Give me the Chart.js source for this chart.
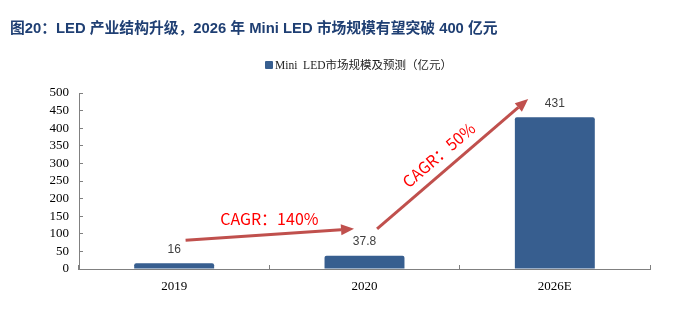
<!DOCTYPE html>
<html>
<head>
<meta charset="utf-8">
<script src="https://cdn.jsdelivr.net/npm/chart.js@4.4.1/dist/chart.umd.min.js"></script>
<style>
  html, body { margin: 0; padding: 0; background: #ffffff; }
  #wrap { position: relative; width: 677px; height: 325px; overflow: hidden; }
  #chart { position: absolute; left: 0; top: 0; }
  #title { position: absolute; left: 10px; top: 18px; font: bold 14.8px "Liberation Sans", "Noto Sans CJK SC", sans-serif; color: #1F3F73; white-space: nowrap; line-height: 20px; }
  #legend { position: absolute; left: 265px; top: 57px; font: 11.5px "Liberation Serif", "Noto Sans CJK SC", serif; color: #222; white-space: nowrap; line-height: 16px; }
  #legend .box { display: inline-block; width: 8px; height: 8px; background: #375E8F; margin-right: 2px; vertical-align: 0px; border-radius: 1px; }
</style>
</head>
<body>
<div id="wrap">
  <canvas id="chart" width="677" height="325"></canvas>
  <div id="title">图20：LED 产业结构升级，2026 年 Mini LED 市场规模有望突破 400 亿元</div>
  <div id="legend"><span class="box"></span>Mini&nbsp; LED市场规模及预测（亿元）</div>
</div>
<script>
const categories = ['2019', '2020', '2026E'];
const marketSize = [16, 37.8, 431];
const valueLabels = ['16', '37.8', '431'];
const yTicks = [0, 50, 100, 150, 200, 250, 300, 350, 400, 450, 500];
const seriesName = 'Mini  LED市场规模及预测（亿元）';
// annotation arrows in data space: [categoryIndex, value]
const arrow1 = [[0.06, 82], [0.945, 114]];
const arrow2 = [[1.066, 114], [1.86, 483]];
const cagrLabels = ['CAGR：140%', 'CAGR：50%'];
const cagrAnchors = [[0.5, 142], [1.39, 324]];

const annotPlugin = {
  id: 'annot',
  afterDatasetsDraw(chart) {
    const ctx = chart.ctx;
    const xs = chart.scales.x, ys = chart.scales.y;
    const px = (i) => xs.getPixelForValue(0) + i * (xs.getPixelForValue(1) - xs.getPixelForValue(0));
    const py = (v) => ys.getPixelForValue(v);
    const meta = chart.getDatasetMeta(0);
    ctx.save();
    ctx.font = '12px "Liberation Sans", Arial, sans-serif';
    ctx.fillStyle = '#404040';
    ctx.textAlign = 'center';
    ctx.textBaseline = 'middle';
    meta.data.forEach((bar, i) => {
      ctx.fillText(valueLabels[i], bar.x, bar.y - 14);
    });
    ctx.restore();
    function arrow(a) {
      const x1 = px(a[0][0]), y1 = py(a[0][1]);
      const x2 = px(a[1][0]), y2 = py(a[1][1]);
      const ang = Math.atan2(y2 - y1, x2 - x1);
      const hl = 13, hw = 5.5;
      const bx = x2 - hl * Math.cos(ang), by = y2 - hl * Math.sin(ang);
      ctx.save();
      ctx.strokeStyle = '#C0504D';
      ctx.fillStyle = '#C0504D';
      ctx.lineWidth = 3;
      ctx.beginPath();
      ctx.moveTo(x1, y1);
      ctx.lineTo(bx, by);
      ctx.stroke();
      ctx.beginPath();
      ctx.moveTo(x2, y2);
      ctx.lineTo(bx + hw * Math.sin(ang), by - hw * Math.cos(ang));
      ctx.lineTo(bx - hw * Math.sin(ang), by + hw * Math.cos(ang));
      ctx.closePath();
      ctx.fill();
      ctx.restore();
      return ang;
    }
    arrow(arrow1);
    const ang2 = arrow(arrow2);
    ctx.save();
    ctx.font = '16px "Noto Sans CJK SC", "Liberation Sans", sans-serif';
    ctx.fillStyle = '#FF0000';
    ctx.textAlign = 'center';
    ctx.textBaseline = 'middle';
    ctx.fillText(cagrLabels[0], px(cagrAnchors[0][0]), py(cagrAnchors[0][1]));
    ctx.translate(px(cagrAnchors[1][0]), py(cagrAnchors[1][1]));
    ctx.rotate(ang2);
    ctx.fillText(cagrLabels[1], 0, 0);
    ctx.restore();
  }
};

new Chart(document.getElementById('chart'), {
  type: 'bar',
  data: {
    labels: categories,
    datasets: [{
      label: seriesName,
      data: marketSize,
      backgroundColor: '#375E8F',
      borderRadius: 2,
      borderSkipped: 'bottom',
      categoryPercentage: 1,
      barPercentage: 0.42
    }]
  },
  options: {
    responsive: false,
    animation: false,
    layout: { padding: { top: 93, right: 27, bottom: 0, left: 0 } },
    plugins: { legend: { display: false }, title: { display: false }, tooltip: { enabled: false } },
    scales: {
      x: {
        offset: true,
        grid: { offset: true, drawOnChartArea: false, tickLength: -4, color: '#808080', lineWidth: 1 },
        border: { color: '#808080', width: 1 },
        ticks: { color: '#000', padding: 14, font: { family: '"Liberation Serif", "Times New Roman", serif', size: 13 } },
        afterFit(scale) { scale.height = 56; }
      },
      y: {
        min: 0, max: 500,
        afterBuildTicks(scale) { scale.ticks = yTicks.map(v => ({ value: v })); },
        grid: { drawOnChartArea: false, tickLength: -4, color: '#808080', lineWidth: 1 },
        border: { color: '#808080', width: 1 },
        ticks: { color: '#000', padding: 14, autoSkip: false, font: { family: '"Liberation Serif", "Times New Roman", serif', size: 13 } },
        afterFit(scale) { scale.width = 79; }
      }
    }
  },
  plugins: [annotPlugin]
});
</script>
</body>
</html>
